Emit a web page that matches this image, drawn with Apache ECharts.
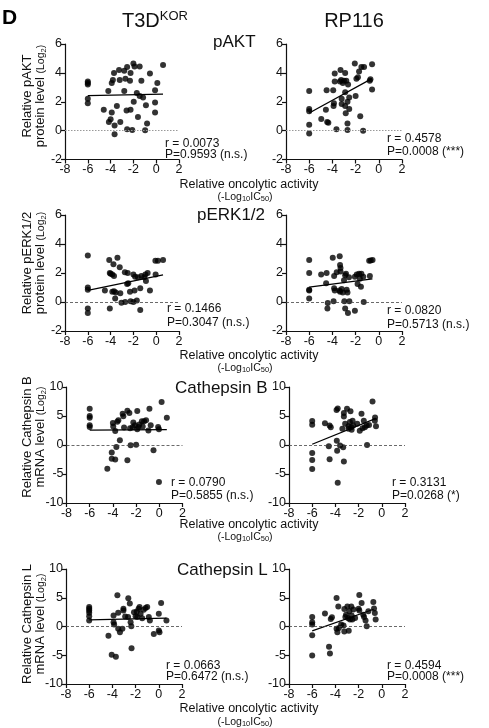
<!DOCTYPE html>
<html><head><meta charset="utf-8">
<script src="https://cdn.jsdelivr.net/npm/echarts@6.0.0/dist/echarts.min.js"></script>
<style>html,body{margin:0;padding:0;background:#fff}#c{width:489px;height:728px}</style>
</head><body><div id="c"></div>
<script>
// ---------- data ----------
const xTicks = [-8, -6, -4, -2, 0, 2];
const yTicksProtein = [-2, 0, 2, 4, 6];
const yTicksMRNA = [-10, -5, 0, 5, 10];
const columnTitles = ['T3D', 'RP116'];
const rowTitles = ['pAKT', 'pERK1/2', 'Cathepsin B', 'Cathepsin L'];
const yTitles = [['Relative pAKT', 'protein level'], ['Relative pERK1/2', 'protein level'],
                 ['Relative Cathepsin B', 'mRNA level'], ['Relative Cathepsin L', 'mRNA level']];
const rValues = ['0.0073', '0.4578', '0.1466', '0.0820', '0.0790', '0.3131', '0.0663', '0.4594'];
const pValues = ['0.9593 (n.s.)', '0.0008 (***)', '0.3047 (n.s.)', '0.5713 (n.s.)',
                 '0.5855 (n.s.)', '0.0268 (*)', '0.6472 (n.s.)', '0.0008 (***)'];

const pAKT_T3D = [[-6,3.4],[-6,3.3],[-6,3.2],[-6,2.2],[-6,1.9],[-4.6,1.45],[-4.2,2.75],[-4.0,0.78],[-4.15,0.6],[-3.9,3.3],
  [-3.9,1.25],[-3.7,4.0],[-3.8,3.5],[-3.65,0.35],[-3.65,-0.25],[-3.45,1.7],[-3.26,4.2],[-3.2,3.5],[-3.15,0.6],[-2.8,4.15],
  [-2.8,2.75],[-2.7,3.6],[-2.55,4.4],[-2.55,0.1],[-2.6,1.4],[-2.25,1.45],[-2.3,3.45],[-2.25,4.0],[-2.1,0.05],[-2.0,4.65],
  [-1.9,4.45],[-1.97,2.0],[-1.6,0.95],[-1.7,2.6],[-1.45,4.45],[-1.45,2.4],[-1.3,3.45],[-1.15,2.3],[-0.9,1.75],[-0.97,0.02],
  [-0.8,0.5],[-0.55,3.95],[-0.1,2.8],[-0.1,1.95],[-0.1,1.25],[0.1,3.3],[0.6,4.55]];
const pAKT_RP116 = [[-6,2.75],[-6,1.5],[-6,1.35],[-6,0.4],[-6,-0.2],[-4.96,0.8],[-4.56,1.45],[-4.45,0.6],[-4.35,0.55],[-4.5,2.8],
  [-3.93,2.8],[-3.9,1.7],[-3.87,1.9],[-3.8,3.95],[-3.8,3.4],[-3.65,0.1],[-3.3,4.2],[-3.35,3.4],[-3.25,3.5],[-3.2,2.2],
  [-3.2,1.85],[-3.1,3.3],[-3.0,3.45],[-2.9,2.65],[-2.9,1.7],[-2.9,4.0],[-2.8,3.45],[-2.85,1.2],[-2.7,0.5],[-2.65,3.2],
  [-2.7,0.05],[-2.7,2.0],[-2.55,2.3],[-2.55,1.5],[-2.07,4.65],[-2.0,2.4],[-1.93,3.6],[-1.8,3.7],[-1.7,4.1],[-1.6,1.0],
  [-1.5,4.4],[-1.27,4.4],[-1.35,0.0],[-0.78,3.45],[-0.72,3.55],[-0.58,4.6],[-0.58,2.85]];
const pERK_T3D = [[-6,3.2],[-6,1.0],[-6,0.85],[-6,-0.45],[-6,-0.75],[-4.5,0.8],[-4.12,2.9],[-4.07,2.0],[-4.0,1.95],[-3.85,1.9],
  [-4.07,-0.45],[-3.85,0.7],[-3.75,2.6],[-3.7,1.8],[-3.7,0.75],[-3.55,0.65],[-3.6,0.25],[-3.4,3.05],[-3.2,2.4],[-3.15,0.6],
  [-3.05,-0.05],[-2.75,2.05],[-2.72,0.0],[-2.5,2.0],[-2.55,1.25],[-2.45,1.3],[-2.3,0.7],[-2.25,0.05],[-2.0,1.9],[-2.0,0.0],
  [-1.85,1.75],[-1.9,0.8],[-1.7,0.1],[-1.6,1.7],[-1.4,0.95],[-1.4,-0.55],[-1.3,1.8],[-1.05,1.7],[-0.95,1.9],[-0.9,1.45],
  [-0.75,2.0],[-0.55,0.8],[-0.07,2.85],[-0.05,1.9],[0.15,2.85],[0.6,2.9]];
const pERK_RP116 = [[-6,2.9],[-6,2.0],[-6,0.85],[-6,0.8],[-6,0.25],[-4.97,1.9],[-4.54,1.3],[-4.5,2.0],[-4.4,-0.07],[-4.43,-0.45],
  [-3.97,3.05],[-3.9,0.05],[-3.85,1.8],[-3.85,0.95],[-3.8,0.8],[-3.63,2.05],[-3.37,3.15],[-3.34,2.55],[-3.3,2.35],[-3.3,2.1],
  [-3.4,0.8],[-3.34,0.7],[-3.2,0.9],[-3.1,0.65],[-3.0,1.5],[-2.97,0.05],[-2.9,1.85],[-2.83,1.95],[-2.77,0.85],[-2.7,0.65],
  [-2.9,-0.45],[-2.66,-0.75],[-2.57,1.7],[-2.54,0.05],[-2.06,-0.6],[-2.06,1.75],[-1.9,1.9],[-1.83,1.25],[-1.7,1.95],[-1.63,1.6],
  [-1.54,1.05],[-1.5,1.95],[-1.34,1.75],[-1.3,0.0],[-0.77,1.8],[-0.83,2.85],[-0.7,2.87],[-0.54,2.9]];
const catB_T3D = [[-6,6.25],[-6,5.0],[-6,4.7],[-6,3.4],[-6,3.1],[-4.48,-4.1],[-4.1,-1.3],[-4.1,-2.35],[-3.8,-2.5],[-4.0,3.8],
  [-3.97,3.2],[-3.8,2.4],[-3.62,4.0],[-3.53,4.25],[-3.7,-0.35],[-3.4,0.8],[-3.16,5.4],[-3.1,4.95],[-3.04,3.0],[-2.75,5.9],
  [-2.58,5.5],[-2.75,-2.65],[-2.52,2.9],[-2.47,-0.05],[-2.3,3.05],[-2.24,3.9],[-2.1,3.4],[-2.0,0.05],[-1.9,5.85],[-1.9,2.7],
  [-1.8,3.1],[-1.72,3.55],[-1.5,4.1],[-1.43,3.2],[-1.31,4.1],[-1.14,4.25],[-0.94,2.5],[-0.85,6.25],[-0.74,3.4],[-0.5,-0.9],
  [-0.1,3.1],[-0.03,2.7],[-0.03,-6.4],[0.2,7.4],[0.65,4.7]];
const catB_RP116 = [[-6,4.15],[-6,3.5],[-6,-1.4],[-6,-2.6],[-6,-4.15],[-4.9,3.75],[-4.5,3.35],[-4.4,3.05],[-4.57,-0.2],[-4.5,-2.45],
  [-3.9,6.05],[-3.8,6.3],[-3.88,0.75],[-3.85,-1.0],[-3.8,-6.5],[-3.6,-0.1],[-3.4,2.8],[-3.27,5.5],[-3.27,4.9],[-3.33,-0.4],
  [-3.27,-2.85],[-3.16,3.65],[-3.0,6.25],[-2.87,3.25],[-2.87,2.8],[-2.75,3.95],[-2.7,5.8],[-2.64,3.05],[-2.6,2.65],[-2.52,4.2],
  [-2.47,3.35],[-2.12,3.65],[-1.9,2.45],[-1.75,5.4],[-1.66,2.9],[-1.55,4.2],[-1.46,3.05],[-1.3,3.35],[-1.27,0.0],[-1.1,3.45],
  [-0.8,7.5],[-0.6,4.2],[-0.58,4.75],[-0.5,3.25]];
const catL_T3D = [[-6,3.4],[-6,3.1],[-6,2.8],[-6,2.4],[-6,1.8],[-6,1.05],[-4.34,-1.6],[-4.06,-4.9],[-3.7,-5.25],[-3.9,1.9],
  [-3.9,0.75],[-3.85,0.35],[-3.57,5.45],[-3.5,2.4],[-3.5,-0.4],[-3.35,-1.0],[-3.14,-0.4],[-3.05,3.1],[-3.05,2.8],[-2.9,1.75],
  [-2.63,4.9],[-2.5,4.0],[-2.65,1.65],[-2.43,0.75],[-2.37,0.05],[-2.35,-3.8],[-2.14,2.5],[-2.0,1.8],[-1.86,1.65],[-1.9,2.6],
  [-1.74,3.1],[-1.66,3.4],[-1.57,2.2],[-1.43,1.45],[-1.3,2.9],[-1.14,3.2],[-1.0,3.4],[-0.86,1.65],[-0.77,1.05],[-0.43,-1.3],
  [0.0,2.2],[0.0,-0.7],[0.06,-1.0],[0.2,4.1],[0.66,1.05]];
const catL_RP116 = [[-6,1.65],[-6,0.75],[-6,0.35],[-6,-1.5],[-6,-5.05],[-4.9,2.25],[-4.4,1.3],[-4.3,1.6],[-4.55,-3.5],[-4.47,-4.7],
  [-3.9,4.95],[-3.75,3.5],[-3.9,-0.4],[-3.83,-1.0],[-3.7,-0.25],[-3.5,0.35],[-3.3,0.17],[-3.23,-0.85],[-3.23,3.05],[-3.14,1.65],
  [-3.08,2.05],[-2.97,3.5],[-2.9,1.45],[-2.85,-0.75],[-2.8,2.65],[-2.74,1.2],[-2.63,3.5],[-2.6,1.9],[-2.54,1.2],[-2.45,2.95],
  [-2.3,1.5],[-2.0,3.1],[-1.94,5.5],[-1.94,2.8],[-1.74,4.1],[-1.6,2.05],[-1.53,1.65],[-1.4,1.05],[-1.3,0.05],[-1.16,2.65],
  [-0.73,4.25],[-0.67,3.15],[-0.6,2.35],[-0.53,1.2]];

// regression line end points
const fit_pAKT_T3D = [[-6, 2.42], [0.6, 2.53]];
const fit_pAKT_RP116 = [[-6, 1.22], [-0.6, 3.6]];
const fit_pERK_T3D = [[-6, 0.8], [0.6, 1.87]];
const fit_pERK_RP116 = [[-6, 1.03], [-0.55, 1.6]];
const fit_catB_T3D = [[-6, 2.55], [0.65, 2.65]];
const fit_catB_RP116 = [[-6, 0.12], [-0.5, 4.6]];
const fit_catL_T3D = [[-6, 1.15], [0.66, 1.45]];
const fit_catL_RP116 = [[-6, -0.75], [-0.7, 3.0]];

// ---------- layout ----------
const FONT = '"Liberation Sans", Arial, Helvetica, sans-serif';
const INK = '#111';
const panelData = [pAKT_T3D, pAKT_RP116, pERK_T3D, pERK_RP116, catB_T3D, catB_RP116, catL_T3D, catL_RP116];
const panelFit = [fit_pAKT_T3D, fit_pAKT_RP116, fit_pERK_T3D, fit_pERK_RP116, fit_catB_T3D, fit_catB_RP116, fit_catL_T3D, fit_catL_RP116];
const grids = [
  {left: 65, top: 44, width: 114, height: 115.5}, {left: 286, top: 44, width: 116, height: 115.5},
  {left: 65, top: 215, width: 114, height: 116}, {left: 286, top: 215, width: 116, height: 116},
  {left: 66.5, top: 387, width: 116, height: 116}, {left: 289, top: 387, width: 116, height: 116},
  {left: 66, top: 569, width: 116, height: 115}, {left: 289, top: 569, width: 116, height: 115}
];
const statPos = [[165, 144, 155], [387, 139, 152], [167, 309, 323], [387, 311, 325],
                 [171, 483, 496], [392, 483, 496], [166, 666, 677], [387, 666, 677]];
const rowTitlePos = [[213, 42], [197, 215], [175, 388], [177, 570]];
const yTitleY = [96, 263, 437, 624];
const xTitleY = [[185, 197], [356, 368], [525, 537], [709, 722]];

const option = {
  animation: false,
  backgroundColor: '#fff',
  textStyle: {fontFamily: FONT},
  grid: [], xAxis: [], yAxis: [], series: [], graphic: []
};

panelData.forEach((d, i) => {
  const row = Math.floor(i / 2);
  const yt = row < 2 ? yTicksProtein : yTicksMRNA;
  option.grid.push(Object.assign({containLabel: false, outerBoundsMode: 'none'}, grids[i]));
  const axisCommon = {
    type: 'value', gridIndex: i,
    axisLine: {show: true, onZero: false, lineStyle: {color: INK, width: 1.2}},
    axisTick: {show: true, length: 4, inside: false, lineStyle: {color: INK, width: 1.2}},
    splitLine: {show: false}, minorTick: {show: false},
    axisLabel: {color: INK, fontSize: 12.5, fontFamily: FONT, showMinLabel: true, showMaxLabel: true}
  };
  option.xAxis.push(Object.assign({}, axisCommon, {
    min: xTicks[0], max: xTicks[xTicks.length - 1], interval: xTicks[1] - xTicks[0],
    axisLabel: Object.assign({}, axisCommon.axisLabel, {margin: 4})
  }));
  option.yAxis.push(Object.assign({}, axisCommon, {
    min: yt[0], max: yt[yt.length - 1], interval: yt[1] - yt[0],
    axisLabel: Object.assign({}, axisCommon.axisLabel, {margin: 3})
  }));
  option.series.push({
    type: 'scatter', xAxisIndex: i, yAxisIndex: i, data: d,
    symbol: 'circle', symbolSize: 6, itemStyle: {color: '#000'}, silent: true,
    markLine: {silent: true, symbol: 'none', label: {show: false},
      lineStyle: row === 0 ? {color: '#999', type: [1.5, 1.5], width: 1}
                           : {color: '#444', type: [3, 2], width: 0.8},
      data: [{yAxis: 0}]}
  });
  option.series.push({
    type: 'line', xAxisIndex: i, yAxisIndex: i, data: panelFit[i],
    symbol: 'none', lineStyle: {color: '#000', width: 1.2}, silent: true, z: 3
  });
  const sp = statPos[i];
  option.graphic.push({type: 'text', x: sp[0], y: sp[1], silent: true,
    style: {text: 'r = ' + rValues[i], font: '12px ' + FONT, fill: INK, align: 'left', verticalAlign: 'middle'}});
  option.graphic.push({type: 'text', x: sp[0], y: sp[2], silent: true,
    style: {text: 'P=' + pValues[i], font: '12px ' + FONT, fill: INK, align: 'left', verticalAlign: 'middle'}});
});

rowTitles.forEach((t, r) => {
  option.graphic.push({type: 'text', x: rowTitlePos[r][0], y: rowTitlePos[r][1], silent: true,
    style: {text: t, font: '17px ' + FONT, fill: INK, align: 'left', verticalAlign: 'middle'}});
  option.graphic.push({type: 'text', x: 34, y: yTitleY[r], rotation: Math.PI / 2, silent: true,
    style: {
      text: '{m|' + yTitles[r][0] + '}\n{m|' + yTitles[r][1] + ' }{s|(Log}{ss|2}{s|)}',
      align: 'center', verticalAlign: 'middle', fill: INK,
      rich: {
        m: {fontSize: 13, lineHeight: 13.5, fontFamily: FONT, fill: INK},
        s: {fontSize: 10.5, lineHeight: 13.5, fontFamily: FONT, fill: INK},
        ss: {fontSize: 7.5, lineHeight: 7, verticalAlign: 'bottom', fontFamily: FONT, fill: INK}
      }
    }});
  option.graphic.push({type: 'text', x: 249, y: xTitleY[r][0], silent: true,
    style: {text: 'Relative oncolytic activity', font: '12.5px ' + FONT, fill: INK, align: 'center', verticalAlign: 'middle'}});
  option.graphic.push({type: 'text', x: 245, y: xTitleY[r][1], silent: true,
    style: {
      text: '{a|(-Log}{s|10}{a|IC}{s|50}{a|)}', align: 'center', verticalAlign: 'middle',
      rich: {
        a: {fontSize: 10.5, lineHeight: 12, fontFamily: FONT, fill: INK},
        s: {fontSize: 7.5, lineHeight: 6, verticalAlign: 'bottom', fontFamily: FONT, fill: INK}
      }
    }});
});

option.graphic.push({type: 'text', x: 2, y: 18, silent: true,
  style: {text: 'D', font: 'bold 21px ' + FONT, fill: '#000', align: 'left', verticalAlign: 'middle'}});
option.graphic.push({type: 'text', x: 122, y: 21, silent: true,
  style: {text: '{a|' + columnTitles[0] + '}{b|KOR}', align: 'left', verticalAlign: 'middle',
    rich: {a: {fontSize: 20, lineHeight: 22, fontFamily: FONT, fill: INK},
           b: {fontSize: 13, lineHeight: 6, verticalAlign: 'top', fontFamily: FONT, fill: INK}}}});
option.graphic.push({type: 'text', x: 354, y: 21, silent: true,
  style: {text: columnTitles[1], font: '20px ' + FONT, fill: INK, align: 'center', verticalAlign: 'middle'}});

const chart = echarts.init(document.getElementById('c'), null, {renderer: 'canvas'});
chart.setOption(option);
</script></body></html>
